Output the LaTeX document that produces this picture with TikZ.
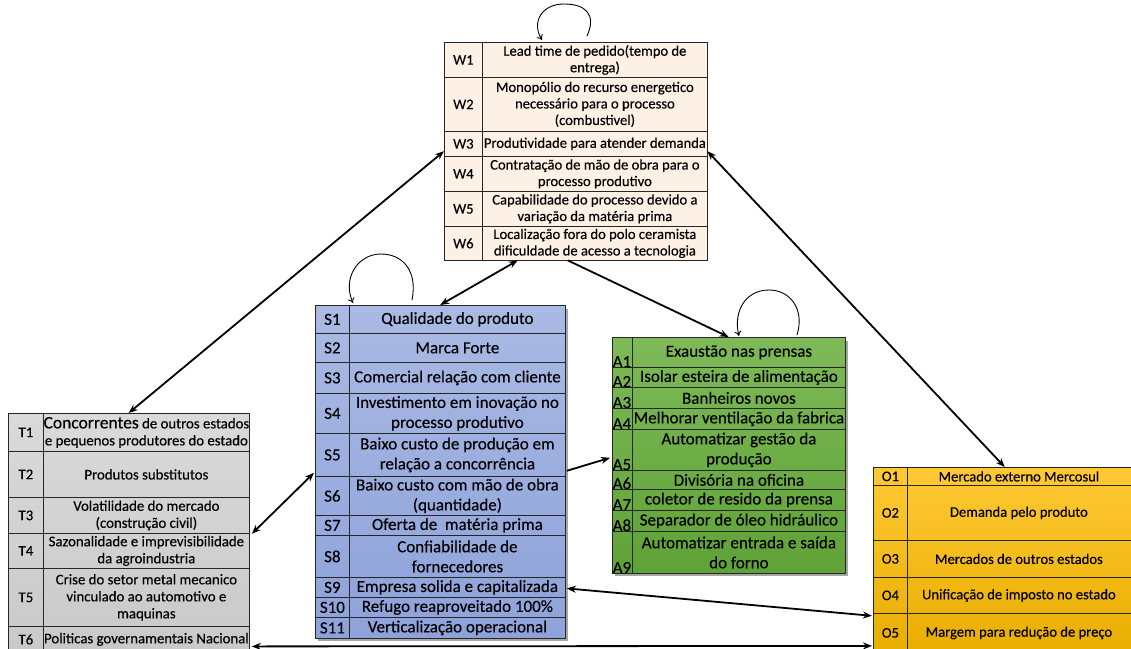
\documentclass[tikz,border=0pt]{standalone}
\usepackage{fontspec}
\setmainfont{Carlito}[FakeBold=0.3]
\usetikzlibrary{arrows.meta,calc}
\definecolor{wfill}{HTML}{FDF0E4}
\definecolor{stop}{HTML}{AABAE4}
\definecolor{sbot}{HTML}{8EA2DA}
\definecolor{atop}{HTML}{7EBA58}
\definecolor{abot}{HTML}{5FA236}
\definecolor{ttop}{HTML}{DADADA}
\definecolor{tbot}{HTML}{C9C9C9}
\definecolor{otop}{HTML}{FFC935}
\definecolor{obot}{HTML}{E9AE00}
\definecolor{gridc}{HTML}{262626}
\newcommand\cellbox[7]{%
  \node[cell, #7, minimum width={(#4)-(#2)}, minimum height={(#5)-(#3)}] (#1) at (#2,#3) {#6};}
\begin{document}
\begin{tikzpicture}[x=1pt,y=-1pt,
  cell/.style={draw=gridc, line width=0.8pt, inner sep=0pt, anchor=north west, align=center},
  frame/.style={inner sep=0pt, anchor=north west},
  wf/.style={font=\fontsize{14.6}{16.5}\selectfont},
  sf/.style={font=\fontsize{17}{20}\selectfont},
  af/.style={font=\fontsize{17}{20}\selectfont},
  tf/.style={font=\fontsize{14.8}{17}\selectfont},
  of/.style={font=\fontsize{14.6}{17}\selectfont},
  alab/.style={anchor=south west, inner sep=0.5pt, font=\fontsize{17}{20}\selectfont},
  link/.style={line width=1.8pt, {Stealth[length=9pt,width=7pt]}-{Stealth[length=9pt,width=7pt]}},
  onelink/.style={line width=1.8pt, -{Stealth[length=9pt,width=7pt]}},
  loop/.style={line width=0.9pt, -{To[length=5pt,width=7pt]}},
  shadow/.style={fill=black, opacity=0.35}
]
\clip (0,0) rectangle (1131,648);
\fill[white] (0,0) rectangle (1131,648);

% ---------------- W table
\fill[wfill] (444,42) rectangle (707,260);
\node[frame, minimum width=263pt, minimum height=218pt] (W) at (444,42) {};
\cellbox{W1l}{444}{42}{482}{77}{W1}{wf}
\cellbox{W1}{482}{42}{707}{77}{Lead time de pedido(tempo de\\entrega)}{wf}
\cellbox{W2l}{444}{77}{482}{131}{W2}{wf}
\cellbox{W2}{482}{77}{707}{131}{Monopólio do recurso energetico\\necessário para o processo\\(combustivel)}{wf}
\cellbox{W3l}{444}{131}{482}{156}{W3}{wf}
\cellbox{W3}{482}{131}{707}{156}{Produtividade para atender demanda}{wf}
\cellbox{W4l}{444}{156}{482}{191}{W4}{wf}
\cellbox{W4}{482}{156}{707}{191}{Contratação de mão de obra para o\\processo produtivo}{wf}
\cellbox{W5l}{444}{191}{482}{226}{W5}{wf}
\cellbox{W5}{482}{191}{707}{226}{Capabilidade do processo devido a\\variação da matéria prima}{wf}
\cellbox{W6l}{444}{226}{482}{260}{W6}{wf}
\cellbox{W6}{482}{226}{707}{260}{Localização fora do polo ceramista\\dificuldade de acesso a tecnologia}{wf}

% ---------------- S table
\fill[shadow] (318,309) rectangle (568,641);
\shade[top color=stop, bottom color=sbot] (315,305) rectangle (565,638);
\node[frame, minimum width=250pt, minimum height=333pt] (S) at (315,305) {};
\cellbox{S1l}{315}{305}{349}{333}{S1}{sf}
\cellbox{S1}{349}{305}{565}{333}{Qualidade do produto}{sf}
\cellbox{S2l}{315}{333}{349}{362}{S2}{sf}
\cellbox{S2}{349}{333}{565}{362}{Marca Forte}{sf}
\cellbox{S3l}{315}{362}{349}{393}{S3}{sf}
\cellbox{S3}{349}{362}{565}{393}{Comercial relação com cliente}{sf}
\cellbox{S4l}{315}{393}{349}{433}{S4}{sf}
\cellbox{S4}{349}{393}{565}{433}{Investimento em inovação no\\processo produtivo}{sf}
\cellbox{S5l}{315}{433}{349}{476}{S5}{sf}
\cellbox{S5}{349}{433}{565}{476}{Baixo custo de produção em\\relação a concorrência}{sf}
\cellbox{S6l}{315}{476}{349}{515}{S6}{sf}
\cellbox{S6}{349}{476}{565}{515}{Baixo custo com mão de obra\\(quantidade)}{sf}
\cellbox{S7l}{315}{515}{349}{535}{S7}{sf}
\cellbox{S7}{349}{515}{565}{535}{Oferta de\ \ matéria prima}{sf}
\cellbox{S8l}{315}{535}{349}{577}{S8}{sf}
\cellbox{S8}{349}{535}{565}{577}{Confiabilidade de\\fornecedores}{sf}
\cellbox{S9l}{315}{577}{349}{597}{S9}{sf}
\cellbox{S9}{349}{577}{565}{597}{Empresa solida e capitalizada}{sf}
\cellbox{S10l}{315}{597}{349}{617}{S10}{sf}
\cellbox{S10}{349}{597}{565}{617}{Refugo reaproveitado 100\%}{sf}
\cellbox{S11l}{315}{617}{349}{638}{S11}{sf}
\cellbox{S11}{349}{617}{565}{638}{Verticalização operacional}{sf}

% ---------------- A table
\fill[shadow] (615,341) rectangle (848,576);
\shade[top color=atop, bottom color=abot] (612,337) rectangle (845,573);
\node[frame, minimum width=233pt, minimum height=236pt] (A) at (612,337) {};
\cellbox{A1l}{612}{337}{632}{367}{}{af}
\cellbox{A1}{632}{337}{845}{367}{Exaustão nas prensas}{af}
\cellbox{A2l}{612}{367}{632}{387}{}{af}
\cellbox{A2}{632}{367}{845}{387}{Isolar esteira de alimentação}{af}
\cellbox{A3l}{612}{387}{632}{408}{}{af}
\cellbox{A3}{632}{387}{845}{408}{Banheiros novos}{af}
\cellbox{A4l}{612}{408}{632}{429}{}{af}
\cellbox{A4}{632}{408}{845}{429}{Melhorar ventilação da fabrica}{af}
\cellbox{A5l}{612}{429}{632}{470}{}{af}
\cellbox{A5}{632}{429}{845}{470}{Automatizar gestão da\\produção}{af}
\cellbox{A6l}{612}{470}{632}{489}{}{af}
\cellbox{A6}{632}{470}{845}{489}{Divisória na oficina}{af}
\cellbox{A7l}{612}{489}{632}{510}{}{af}
\cellbox{A7}{632}{489}{845}{510}{coletor de resido da prensa}{af}
\cellbox{A8l}{612}{510}{632}{531}{}{af}
\cellbox{A8}{632}{510}{845}{531}{Separador de óleo hidráulico}{af}
\cellbox{A9l}{612}{531}{632}{573}{}{af}
\cellbox{A9}{632}{531}{845}{573}{Automatizar entrada e saída\\do forno}{af}
\foreach \i in {1,...,9} {\node[alab] (A\i t) at (A\i l.south west) {A\i};}

% ---------------- T table
\shade[top color=ttop, bottom color=tbot] (8,413) rectangle (249,652);
\node[frame, minimum width=241pt, minimum height=239pt] (T) at (8,413) {};
\cellbox{T1l}{8}{413}{43}{451}{T1}{tf}
\cellbox{T1}{43}{413}{249}{451}{{\fontsize{17.5}{18}\selectfont Concorrentes} de outros estados\\e pequenos produtores do estado}{tf}
\cellbox{T2l}{8}{451}{43}{497}{T2}{tf}
\cellbox{T2}{43}{451}{249}{497}{Produtos substitutos}{tf}
\cellbox{T3l}{8}{497}{43}{533}{T3}{tf}
\cellbox{T3}{43}{497}{249}{533}{Volatilidade do mercado\\(construção civil)}{tf}
\cellbox{T4l}{8}{533}{43}{568}{T4}{tf}
\cellbox{T4}{43}{533}{249}{568}{Sazonalidade e imprevisibilidade\\da agroindustria}{tf}
\cellbox{T5l}{8}{568}{43}{626}{T5}{tf}
\cellbox{T5}{43}{568}{249}{626}{Crise do setor metal mecanico\\vinculado ao automotivo e\\maquinas}{tf}
\cellbox{T6l}{8}{626}{43}{652}{T6}{tf}
\cellbox{T6}{43}{626}{249}{652}{Politicas governamentais Nacional}{tf}

% ---------------- O table
\shade[top color=otop, bottom color=obot] (873,467) rectangle (1136,652);
\node[frame, minimum width=263pt, minimum height=185pt] (O) at (873,467) {};
\cellbox{O1l}{873}{467}{907}{485}{O1}{of}
\cellbox{O1}{907}{467}{1136}{485}{\hspace*{-6pt}Mercado externo Mercosul}{of}
\cellbox{O2l}{873}{485}{907}{540}{O2}{of}
\cellbox{O2}{907}{485}{1136}{540}{\hspace*{-6pt}Demanda pelo produto}{of}
\cellbox{O3l}{873}{540}{907}{577}{O3}{of}
\cellbox{O3}{907}{540}{1136}{577}{\hspace*{-6pt}Mercados de outros estados}{of}
\cellbox{O4l}{873}{577}{907}{613}{O4}{of}
\cellbox{O4}{907}{577}{1136}{613}{\hspace*{-6pt}Unificação de imposto no estado}{of}
\cellbox{O5l}{873}{613}{907}{652}{O5}{of}
\cellbox{O5}{907}{613}{1136}{652}{\hspace*{-6pt}Margem para redução de preço}{of}

% ---------------- connectors
\coordinate (wsS) at ($(W.south west)!0.28!(W.south east)$);
\coordinate (wsA) at ($(W.south west)!0.47!(W.south east)$);
\draw[link] (W.west) -- (T.north);
\draw[link] (W.east) -- (O.north);
\draw[link] (S.north) -- (wsS);
\draw[onelink] (wsA) -- (A.north);
\draw[onelink] ($(S5.south east)+(1,-6)$) -- ($(A5l.south west)+(-2,-13)$);
\draw[link] ($(T3.south east)+(2,0)$) -- ($(S5l.south west)+(-1,-4)$);
\draw[link] ($(S9.east)+(1,1)$) -- ($(O4l.south west)+(-1,2)$);
\draw[link] ($(T6.east)+(2,7)$) -- ($(O5l.west)+(-1,13)$);

% self loops
\draw[loop] ($(W.north west)+(143,-6)$) .. controls +(10,-22) and (585,4) .. (564,4) .. controls (542,4) and (531,22) .. ($(W.north west)+(98,-2)$);
\draw[loop] ($(S.north west)+(97,-5)$) .. controls +(6,-30) and (402,254) .. (381,254) .. controls (358,254) and (342,278) .. ($(S.north west)+(38,-2)$);
\draw[loop] ($(A.north west)+(185,-2)$) .. controls +(8,-26) and (790,290) .. (769,290) .. controls (745,290) and (733,312) .. ($(A.north west)+(127,-1)$);
\end{tikzpicture}
\end{document}
